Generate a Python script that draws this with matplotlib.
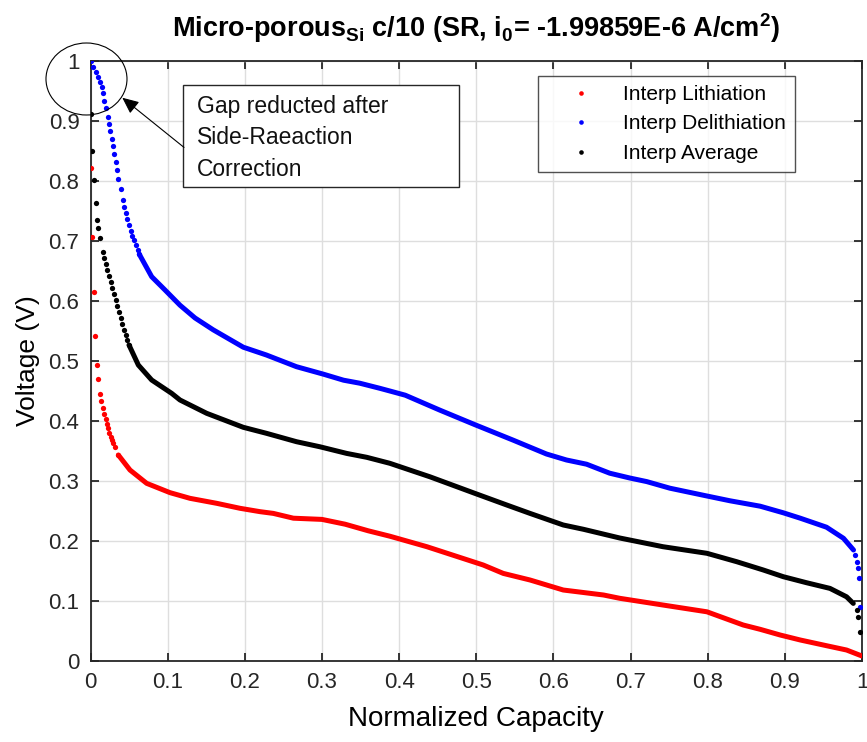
import numpy as np
import matplotlib
matplotlib.use("Agg")
import matplotlib.pyplot as plt
from matplotlib.patches import Ellipse, Rectangle
from matplotlib.lines import Line2D

# ---- data (normalized capacity, voltage) ----
# Delithiation: separate dots at the steep start, dense trace, dots at the end
deli_head_x = [0.0002, 0.0037, 0.0071, 0.0102, 0.0123, 0.0145, 0.0166, 0.0179, 0.0201, 0.0223,
               0.0240, 0.0257, 0.0274, 0.0292, 0.0309, 0.0331, 0.0348, 0.0361, 0.0395, 0.0421,
               0.0438, 0.0456, 0.0477, 0.0499, 0.0521, 0.0542, 0.0564, 0.0585, 0.0611, 0.0633]
deli_head_y = [1.000, 0.9906, 0.9822, 0.9739, 0.9656, 0.9561, 0.9461, 0.9333, 0.9211, 0.9072,
               0.8944, 0.8833, 0.870, 0.8589, 0.8444, 0.8311, 0.8183, 0.8033, 0.7861, 0.7683,
               0.7572, 0.7461, 0.7367, 0.7267, 0.7167, 0.7089, 0.7011, 0.6933, 0.685, 0.6778]
deli_body_x = [0.0633, 0.0793, 0.0966, 0.116, 0.1355, 0.159, 0.198, 0.228, 0.267, 0.302,
               0.328, 0.349, 0.375, 0.388, 0.408, 0.453, 0.498, 0.548, 0.591, 0.617,
               0.643, 0.673, 0.699, 0.721, 0.751, 0.799, 0.829, 0.868, 0.898, 0.920,
               0.954, 0.976, 0.989]
deli_body_y = [0.6778, 0.6405, 0.6183, 0.593, 0.5717, 0.552, 0.523, 0.510, 0.4905, 0.478,
               0.468, 0.463, 0.4545, 0.450, 0.443, 0.418, 0.394, 0.368, 0.345, 0.335,
               0.328, 0.313, 0.305, 0.299, 0.288, 0.275, 0.267, 0.258, 0.247, 0.238,
               0.223, 0.2045, 0.185]
deli_tail_x = [0.991, 0.993, 0.995, 0.9965, 0.998]
deli_tail_y = [0.177, 0.1655, 0.1545, 0.138, 0.0895]

# Average
avg_head_x = [0.0002, 0.0015, 0.0045, 0.0067, 0.0089, 0.0102, 0.0123, 0.0158, 0.0179, 0.0201,
              0.0218, 0.0240, 0.0261, 0.0283, 0.0305, 0.0326, 0.0348, 0.0369, 0.0395, 0.0413,
              0.0434, 0.0456, 0.0477, 0.0499]
avg_head_y = [0.9111, 0.8506, 0.8011, 0.7633, 0.7356, 0.7211, 0.7056, 0.6822, 0.6711, 0.6617,
              0.6517, 0.6417, 0.6322, 0.6211, 0.6117, 0.6017, 0.5917, 0.5811, 0.5711, 0.5617,
              0.5517, 0.5433, 0.535, 0.5267]
avg_body_x = [0.0499, 0.062, 0.0793, 0.1052, 0.116, 0.1506, 0.198, 0.228, 0.267, 0.2975,
              0.332, 0.358, 0.388, 0.440, 0.498, 0.5395, 0.5697, 0.6127, 0.639, 0.686,
              0.742, 0.799, 0.8376, 0.872, 0.898, 0.928, 0.9585, 0.980, 0.9887]
avg_body_y = [0.5267, 0.4933, 0.4683, 0.4461, 0.435, 0.4128, 0.3895, 0.3795, 0.3655, 0.357,
              0.346, 0.3395, 0.3295, 0.307, 0.2795, 0.260, 0.246, 0.2267, 0.2195, 0.205,
              0.1905, 0.1795, 0.1655, 0.1517, 0.1405, 0.1305, 0.121, 0.107, 0.096]
avg_tail_x = [0.993, 0.995, 0.998]
avg_tail_y = [0.085, 0.074, 0.049]

# Lithiation
lith_head_x = [0.0002, 0.0019, 0.0041, 0.0058, 0.0080, 0.0102, 0.0119, 0.0136, 0.0158, 0.0179,
               0.0197, 0.0210, 0.0223, 0.0244, 0.0261, 0.0274, 0.0296, 0.0318, 0.0361]
lith_head_y = [0.8217, 0.7072, 0.6144, 0.5422, 0.4933, 0.4694, 0.445, 0.4339, 0.4222, 0.4111,
               0.4028, 0.395, 0.3878, 0.3806, 0.3739, 0.3683, 0.3628, 0.3572, 0.3433]
lith_body_x = [0.0361, 0.0512, 0.0728, 0.103, 0.129, 0.1636, 0.1938, 0.2197, 0.237, 0.263,
               0.300, 0.330, 0.360, 0.388, 0.436, 0.509, 0.535, 0.5697, 0.6128, 0.665,
               0.686, 0.742, 0.799, 0.846, 0.868, 0.894, 0.920, 0.954, 0.980, 1.000]
lith_body_y = [0.3433, 0.3183, 0.2961, 0.2806, 0.2711, 0.2628, 0.2545, 0.2489, 0.246, 0.238,
               0.236, 0.228, 0.217, 0.208, 0.1905, 0.160, 0.146, 0.135, 0.1183, 0.110,
               0.1045, 0.0933, 0.082, 0.060, 0.0528, 0.0433, 0.035, 0.0255, 0.0183, 0.0083]

x_ticks = [0, 0.1, 0.2, 0.3, 0.4, 0.5, 0.6, 0.7, 0.8, 0.9, 1]
y_ticks = [0, 0.1, 0.2, 0.3, 0.4, 0.5, 0.6, 0.7, 0.8, 0.9, 1]
tick_labels = ["0", "0.1", "0.2", "0.3", "0.4", "0.5", "0.6", "0.7", "0.8", "0.9", "1"]

FONT = ["Liberation Sans Narrow", "Liberation Sans", "DejaVu Sans"]
plt.rcParams["font.family"] = ["Liberation Sans", "DejaVu Sans"]
plt.rcParams["mathtext.fontset"] = "custom"
plt.rcParams["mathtext.rm"] = "Liberation Sans:bold"
plt.rcParams["mathtext.it"] = "Liberation Sans:bold"
plt.rcParams["mathtext.bf"] = "Liberation Sans:bold"

fig = plt.figure(figsize=(8.67, 7.42), dpi=100)
ax = fig.add_axes([90.5 / 867, 81 / 742, 771.5 / 867, 600 / 742])

ms = 3.8
lw = 3.6
series = [
    ("Interp Lithiation", "#ff0000", lith_head_x, lith_head_y, lith_body_x, lith_body_y, [], []),
    ("Interp Delithiation", "#0000ff", deli_head_x, deli_head_y, deli_body_x, deli_body_y, deli_tail_x, deli_tail_y),
    ("Interp Average", "#000000", avg_head_x, avg_head_y, avg_body_x, avg_body_y, avg_tail_x, avg_tail_y),
]
handles = []
for name, c, hx, hy, bx, by, tx, ty in series:
    ax.plot(bx, by, "-", color=c, lw=lw, solid_capstyle="round", solid_joinstyle="round", zorder=3)
    ax.plot(hx + tx, hy + ty, "o", color=c, ms=ms, mew=0, zorder=3)
    handles.append(Line2D([], [], ls="none", marker="o", ms=3.3, mew=0, color=c, label=name))

ax.set_xlim(0, 1)
ax.set_ylim(0, 1)
ax.set_xticks(x_ticks)
ax.set_yticks(y_ticks)
ax.set_xticklabels(tick_labels, family=FONT, fontsize=16)
ax.set_yticklabels(tick_labels, family=FONT[1:], fontsize=16)
ax.tick_params(direction="in", length=6, width=1.3, top=True, right=True, colors="#262626",
               labelcolor="#262626", pad=8)
ax.grid(True, color="#dedede", lw=1)
ax.set_axisbelow(True)
for s in ax.spines.values():
    s.set_color("#262626")
    s.set_linewidth(1.3)

ax.set_xlabel("Normalized Capacity", family=FONT, fontsize=20, labelpad=9)
ax.set_ylabel("Voltage (V)", family=FONT[1:], fontsize=19, labelpad=6)
ax.set_title(r"Micro-porous$_{\mathrm{Si}}$ c/10 (SR, i$_{\mathrm{0}}$= -1.99859E-6 A/cm$^{\mathrm{2}}$)",
             family=FONT, fontweight="bold", fontsize=19.5, pad=17)

leg = ax.legend(handles=handles, loc="upper right", bbox_to_anchor=(0.913, 0.9755),
                borderaxespad=0, fontsize=15, frameon=True, fancybox=False,
                handlelength=3.2, handletextpad=0.41, borderpad=0.45, labelspacing=0.5)
leg.get_frame().set_edgecolor("#262626")
leg.get_frame().set_linewidth(1)

# annotation: circle, text box, arrow
ax.add_patch(Ellipse((-0.0052, 0.97), 0.105, 0.12, fill=False, ec="black", lw=0.8, clip_on=False, zorder=5))
ax.add_patch(Rectangle((0.1199, 0.79), 0.3577, 0.17, fill=True, fc="white", ec="#262626", lw=1, zorder=5))
ax.text(0.138, 0.8717, "Gap reducted after\nSide-Raeaction\nCorrection", fontsize=16.5, va="center",
        ha="left", linespacing=1.45, color="#111111", zorder=6)
ax.annotate("", xy=(0.0412, 0.9388), xytext=(0.1212, 0.856),
            arrowprops=dict(arrowstyle="-|>,head_length=1.0,head_width=0.45", color="black", lw=0.8,
                            shrinkA=0, shrinkB=0),
            zorder=6, annotation_clip=False)

fig.savefig("out.png", dpi=100)
